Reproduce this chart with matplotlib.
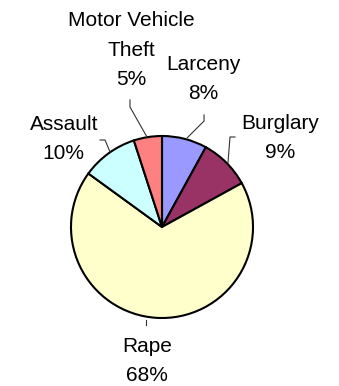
import matplotlib
matplotlib.use("Agg")
import matplotlib.pyplot as plt

# --- data ---
categories = ["Larceny", "Burglary", "Rape", "Assault", "Motor Vehicle\nTheft"]
shares = [8, 9, 68, 10, 5]
colors = ["#9999FF", "#993366", "#FFFFCC", "#CCFFFF", "#FF8080"]

# --- layout (data units, pie radius = 1) ---
label_pos = [(0.45, 1.63), (1.30, 0.98), (-0.165, -1.47), (-1.08, 0.97), (-0.34, 1.945)]
leader_pts = [
    [(0.275, 0.978), (0.462, 1.165), (0.462, 1.231)],
    [(0.725, 0.703), (0.747, 0.989), (0.802, 0.989)],
    [(-0.176, -1.022), (-0.176, -1.077)],
    [(-0.571, 0.824), (-0.626, 0.956), (-0.681, 0.956)],
    [(-0.165, 0.989), (-0.352, 1.319), (-0.352, 1.396)],
]

plt.rcParams['font.family'] = ['Liberation Sans', 'DejaVu Sans']

fig = plt.figure(figsize=(3.39, 3.86), dpi=100)
ax = fig.add_axes([0, 0, 1, 1])

ax.pie(shares, colors=colors, startangle=90, counterclock=False,
       wedgeprops=dict(edgecolor='black', linewidth=1.5))

for name, val, (tx, ty), pts in zip(categories, shares, label_pos, leader_pts):
    ax.text(tx, ty, f"{name}\n{val}%", ha='center', va='center',
            fontsize=15, linespacing=1.68)
    xs, ys = zip(*pts)
    ax.plot(xs, ys, color='#333333', linewidth=0.8)

ax.set_xlim(-162 / 91, (339 - 162) / 91)
ax.set_ylim(-(386 - 227) / 91, 227 / 91)
ax.axis('off')

fig.savefig("out.png", dpi=100)
